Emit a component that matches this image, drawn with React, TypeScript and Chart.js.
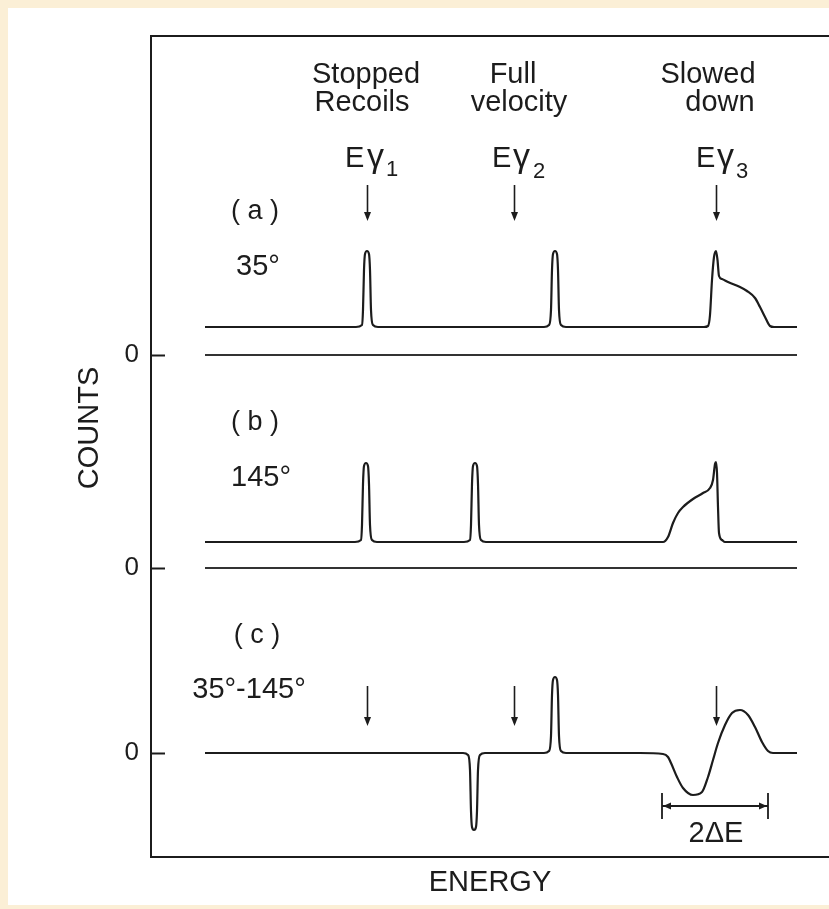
import React, { useEffect, useRef } from 'react';
import { Chart, registerables } from 'chart.js';

Chart.register(...registerables);

const FONT = '"Liberation Sans", Arial, sans-serif';
const INK = '#1c1c1c';

// Energy axis in channels, counts in arbitrary units (relative to each panel's zero)
const spectrumAEnergy = [54, 205, 211, 212, 213, 214, 216, 218, 219, 220, 222, 227, 393, 398, 400, 401, 402, 404, 406, 407, 408, 410, 415, 553, 557, 559, 561, 563, 565, 566.5, 568, 571, 577, 589, 596, 604, 609, 614, 619, 623, 646];
const spectrumACounts = [28, 28, 30, 45, 85, 101, 104, 101, 85, 45, 30, 28, 28, 30, 45, 85, 101, 104, 101, 85, 45, 30, 28, 28, 29, 40, 75, 98, 104, 95, 79, 76, 73, 68, 64, 57, 48, 38, 29, 28, 28];

const spectrumBEnergy = [54, 204, 210, 211, 212, 213, 215, 217, 218, 219, 221, 226, 313, 319, 320, 321, 322, 324, 326, 327, 328, 330, 335, 512, 517, 522, 527, 532, 542, 552, 559, 562, 564, 565, 566, 567, 568, 571, 574, 646];
const spectrumBCounts = [26, 26, 28, 43, 84, 102, 105, 102, 84, 43, 28, 26, 26, 28, 43, 84, 102, 105, 102, 84, 43, 28, 26, 26, 31, 45, 55, 61, 69, 75, 80, 88, 104, 106, 95, 61, 35, 28, 26, 26];

const spectrumCEnergy = [54, 312, 317, 319, 320, 321, 323, 325, 326, 327, 329, 334, 393, 398, 400, 401, 402, 404, 406, 407, 408, 410, 415, 489, 512, 517, 520, 526, 532, 542, 551, 557, 562, 567, 574, 581, 589, 597, 604, 611, 617, 622, 646];
const spectrumCCounts = [0, 0, -2, -17, -58, -74, -77, -74, -58, -17, -2, 0, 0, 2, 17, 58, 73, 76, 73, 58, 17, 2, 0, 0, -1, -4, -10, -24, -35, -42, -39, -24, -7, 10, 28, 40, 43, 38, 26, 11, 2, 0, 0];

const zeroLineEnergy = [54, 646];
const zeroLineCounts = [0, 0];

// vertical offsets of panels (a), (b), (c) on the shared counts axis
const panelOffsets = [398, 185, 0];
const zeroTickLabels = ['0', '0', '0'];

// E-gamma markers
const gammaEnergies = [216, 363, 565];
const gammaSubscripts = ['1', '2', '3'];

const ENERGY_MIN = 0;
const ENERGY_MAX = 678;
const COUNTS_MIN = -104;
const COUNTS_MAX = 717;

const toPoints = (xs: number[], ys: number[], off: number) => xs.map((x, i) => ({ x, y: ys[i] + off }));

const annotationPlugin = {
  id: 'figureAnnotations',
  afterDraw(chart: any) {
    const { ctx, chartArea } = chart;
    const xs = chart.scales.x;
    const ys = chart.scales.y;
    const px = (e: number) => xs.getPixelForValue(e);
    const py = (c: number) => ys.getPixelForValue(c);
    ctx.save();
    ctx.fillStyle = INK;
    ctx.strokeStyle = INK;

    const text = (s: string, e: number, c: number, size: number, align: CanvasTextAlign = 'center', baseline: CanvasTextBaseline = 'alphabetic') => {
      ctx.font = `${size}px ${FONT}`;
      ctx.textAlign = align;
      ctx.textBaseline = baseline;
      ctx.fillText(s, px(e), py(c));
    };

    // header labels
    text('Stopped', 215, 670, 29);
    text('Recoils', 211, 642, 29);
    text('Full', 362, 670, 29);
    text('velocity', 368, 642, 29);
    text('Slowed', 557, 670, 29);
    text('down', 569, 642, 29);

    // E gamma labels
    const eLeft = [194, 341, 545];
    const gLeft = [216, 362, 566];
    const subLeft = [235, 382, 585];
    const subBase = [577, 575, 575];
    gammaEnergies.forEach((_g, i) => {
      text('E', eLeft[i], 586, 29, 'left');
      text('\u03B3', gLeft[i], 586, 34, 'left');
      text(gammaSubscripts[i], subLeft[i], subBase[i], 22, 'left');
    });

    const arrow = (e: number, cTop: number, cBot: number) => {
      const X = Math.round(px(e)) + 0.5;
      const Y1 = py(cTop);
      const Y2 = py(cBot);
      ctx.lineWidth = 1.6;
      ctx.beginPath();
      ctx.moveTo(X, Y1);
      ctx.lineTo(X, Y2 - 5);
      ctx.stroke();
      ctx.beginPath();
      ctx.moveTo(X - 3.5, Y2 - 9);
      ctx.lineTo(X + 3.5, Y2 - 9);
      ctx.lineTo(X, Y2);
      ctx.closePath();
      ctx.fill();
    };
    gammaEnergies.forEach((g) => arrow(g, 568, 532));
    gammaEnergies.forEach((g) => arrow(g, 67, 27));

    // panel labels
    text('( a )', 104, 541, 27, 'center', 'middle');
    text('35\u00B0', 107, 486, 29, 'center', 'middle');
    text('( b )', 104, 330, 27, 'center', 'middle');
    text('145\u00B0', 110, 275, 29, 'center', 'middle');
    text('( c )', 106, 117, 27, 'center', 'middle');
    text('35\u00B0-145\u00B0', 98, 63, 29, 'center', 'middle');

    // 2 delta E bracket
    const bx1 = px(511);
    const bx2 = px(617);
    const by = py(-53);
    ctx.lineWidth = 1.8;
    ctx.beginPath();
    ctx.moveTo(bx1, by);
    ctx.lineTo(bx2, by);
    ctx.moveTo(bx1, py(-40));
    ctx.lineTo(bx1, py(-66));
    ctx.moveTo(bx2, py(-40));
    ctx.lineTo(bx2, py(-66));
    ctx.stroke();
    ctx.beginPath();
    ctx.moveTo(bx1 + 1, by);
    ctx.lineTo(bx1 + 9, by - 3.5);
    ctx.lineTo(bx1 + 9, by + 3.5);
    ctx.closePath();
    ctx.moveTo(bx2 - 1, by);
    ctx.lineTo(bx2 - 9, by - 3.5);
    ctx.lineTo(bx2 - 9, by + 3.5);
    ctx.closePath();
    ctx.fill();
    text('2\u0394E', 565, -81, 29, 'center', 'middle');

    // y-axis title
    ctx.save();
    ctx.translate(chartArea.left - 61, py(325));
    ctx.rotate(-Math.PI / 2);
    ctx.font = `29px ${FONT}`;
    ctx.textAlign = 'center';
    ctx.textBaseline = 'middle';
    ctx.fillText('COUNTS', 0, 0);
    ctx.restore();

    ctx.restore();
  },
};

const zeroPadding = (scale: any) => {
  scale.paddingTop = 0;
  scale.paddingBottom = 0;
  scale.paddingLeft = 0;
  scale.paddingRight = 0;
};

export default function App() {
  const canvasRef = useRef<HTMLCanvasElement | null>(null);

  useEffect(() => {
    if (!canvasRef.current) return;
    const lineStyle = {
      borderColor: INK,
      borderWidth: 2.2,
      pointRadius: 0,
      cubicInterpolationMode: 'monotone' as const,
      fill: false,
    };
    const chart = new Chart(canvasRef.current, {
      type: 'line',
      data: {
        datasets: [
          { label: '(a) 35°', data: toPoints(spectrumAEnergy, spectrumACounts, panelOffsets[0]), ...lineStyle },
          { label: '(a) zero', data: toPoints(zeroLineEnergy, zeroLineCounts, panelOffsets[0]), ...lineStyle, borderColor: '#333', borderWidth: 2 },
          { label: '(b) 145°', data: toPoints(spectrumBEnergy, spectrumBCounts, panelOffsets[1]), ...lineStyle },
          { label: '(b) zero', data: toPoints(zeroLineEnergy, zeroLineCounts, panelOffsets[1]), ...lineStyle, borderColor: '#333', borderWidth: 2 },
          { label: '(c) 35°-145°', data: toPoints(spectrumCEnergy, spectrumCCounts, panelOffsets[2]), ...lineStyle },
        ],
      },
      options: {
        animation: false,
        responsive: false,
        devicePixelRatio: 1,
        layout: { padding: 0 },
        plugins: {
          legend: { display: false },
          tooltip: { enabled: false },
          title: { display: false },
        },
        scales: {
          x: {
            type: 'linear',
            position: 'bottom',
            min: ENERGY_MIN,
            max: ENERGY_MAX,
            ticks: { display: false },
            grid: { display: true, drawOnChartArea: false, drawTicks: false },
            border: { display: true, color: INK, width: 2 },
            title: {
              display: true,
              text: 'ENERGY',
              color: INK,
              font: { family: FONT, size: 29 },
              padding: { top: 0, bottom: 9 },
            },
            afterFit: (scale: any) => {
              scale.height = 52;
              zeroPadding(scale);
            },
          },
          xTop: {
            type: 'linear',
            position: 'top',
            min: ENERGY_MIN,
            max: ENERGY_MAX,
            ticks: { display: false },
            grid: { display: true, drawOnChartArea: false, drawTicks: false },
            border: { display: true, color: INK, width: 2 },
            afterFit: (scale: any) => {
              scale.height = 36;
              zeroPadding(scale);
            },
          },
          y: {
            type: 'linear',
            position: 'left',
            min: COUNTS_MIN,
            max: COUNTS_MAX,
            afterBuildTicks: (scale: any) => {
              scale.ticks = panelOffsets.map((v) => ({ value: v }));
            },
            ticks: {
              color: INK,
              font: { family: FONT, size: 26 },
              padding: 26,
              callback: (_v: any, i: number) => zeroTickLabels[i] ?? '0',
            },
            grid: {
              display: true,
              drawOnChartArea: false,
              drawTicks: true,
              tickLength: -14,
              tickColor: INK,
              tickWidth: 2,
            },
            border: { display: true, color: INK, width: 2 },
            afterFit: (scale: any) => {
              scale.width = 151;
              zeroPadding(scale);
            },
          },
        },
      },
      plugins: [annotationPlugin],
    });
    return () => chart.destroy();
  }, []);

  return (
    <div style={{ position: 'fixed', left: 0, top: 0, width: 829, height: 909, background: '#fbefd6', overflow: 'hidden' }}>
      <div style={{ position: 'absolute', left: 8, top: 8, width: 821, height: 897, background: '#ffffff' }} />
      <canvas ref={canvasRef} width={829} height={909} style={{ position: 'absolute', left: 0, top: 0, width: 829, height: 909 }} />
    </div>
  );
}
